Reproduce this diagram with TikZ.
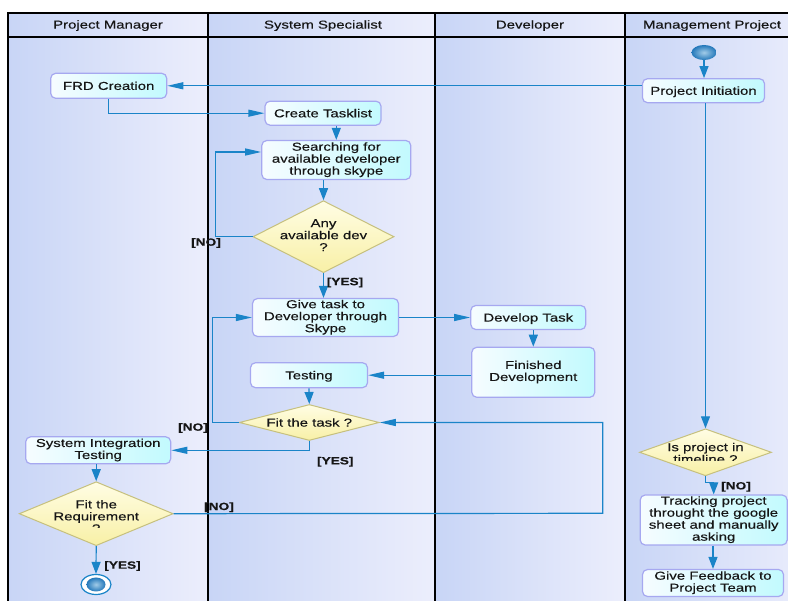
\documentclass[tikz,border=0pt]{standalone}
\usepackage{fontspec}
\setmainfont{Liberation Sans}[FakeStretch=1.3,FakeBold=0.3]
\usetikzlibrary{arrows.meta,shapes.geometric}

\definecolor{lanel}{HTML}{C8D5F6}
\definecolor{laner}{HTML}{ECEEFC}
\definecolor{flow}{HTML}{1A84C8}
\definecolor{boxline}{HTML}{A6A8F0}
\definecolor{boxl}{HTML}{F6FCFF}
\definecolor{boxr}{HTML}{C2FAFE}
\definecolor{dline}{HTML}{C6C07E}
\definecolor{dtop}{HTML}{FFFDE4}
\definecolor{dbot}{HTML}{F8F0A6}
\definecolor{ink}{HTML}{161616}
\definecolor{dotin}{HTML}{A2CCE8}
\definecolor{dotout}{HTML}{2478BA}

% struts that give every text block the same top and bottom
\newcommand{\labeltop}{\rule{0pt}{11.2pt}}
\newcommand{\labelbot}{\rule[-3pt]{0pt}{0pt}}

\begin{document}
\begin{tikzpicture}[x=1pt,y=-1pt,
  font=\fontsize{11.5}{12}\selectfont, text=ink,
  lane/.style={left color=lanel,right color=laner,draw=none},
  frame/.style={draw=black,line width=1.2pt},
  even/.style={execute at begin node=\labeltop,execute at end node=\labelbot},
  box/.style={even,rounded corners=5pt,draw=boxline,line width=1.2pt,
    left color=boxl,right color=boxr,align=center,inner sep=0pt},
  dia/.style={diamond,draw=dline,line width=1pt,top color=dtop,
    bottom color=dbot,inner sep=0pt},
  dtext/.style={even,align=center,inner sep=0pt},
  guard/.style={font=\bfseries\fontsize{10.5}{12}\selectfont,inner sep=0pt},
  head/.style={even,inner sep=0pt},
  flowline/.style={draw=flow,line width=1.2pt},
  harr/.style={flowline,-{Triangle[length=16pt,width=7pt]}},
  varr/.style={flowline,-{Triangle[length=12pt,width=9pt]}},
  dot/.style={ellipse,inner sep=0pt,inner color=dotin,outer color=dotout},
]
\useasboundingbox (0,0) rectangle (788,601);

% swimlanes
\path[lane] (8,13) rectangle (208,601);
\path[lane] (208,13) rectangle (435,601);
\path[lane] (435,13) rectangle (625,601);
\path[lane,right color=laner!85!lanel] (625,13) rectangle (788,601);
\draw[frame] (788,13) -- (8,13) -- (8,601);
\draw[frame] (8,37) -- (788,37);
\foreach \lx in {208,435,625} \draw[frame] (\lx,13) -- (\lx,601);

\node[head] (hpm) at (108,24.5) {Project Manager};
\node[head] (hss) at (323,24.5) {System Specialist};
\node[head] (hdev) at (530,24.5) {Developer};
\node[head] (hmp) at (712,24.5) {Management Project};

% actions
\node[box,minimum width=116pt,minimum height=25pt] (frd) at (108.7,85.8) {FRD Creation};
\node[box,minimum width=116pt,minimum height=24pt] (ct) at (323,113.2) {Create Tasklist};
\node[box,minimum width=122pt,minimum height=24pt] (pi) at (703.5,90.7) {Project Initiation};
\node[box,minimum width=149pt,minimum height=39pt] (search) at (336.3,160) {Searching for\\available developer\\through skype};
\node[box,minimum width=146pt,minimum height=38pt] (give) at (325.5,317.5) {Give task to\\Developer through\\Skype};
\node[box,minimum width=115pt,minimum height=24pt] (dev) at (528.3,317.5) {Develop Task};
\node[box,minimum width=123pt,minimum height=50pt] (fin) at (533.3,372.3) {Finished\\Development};
\node[box,minimum width=117pt,minimum height=25pt] (test) at (309,375.2) {Testing};
\node[box,minimum width=145pt,minimum height=27pt] (sit) at (98.2,450.3) {System Integration\\Testing};
\node[box,minimum width=147pt,minimum height=50pt] (track) at (713.7,520) {Tracking project\\throught the google\\sheet and manually\\asking};
\node[box,minimum width=141pt,minimum height=27pt] (fb) at (713,583) {Give Feedback to\\Project Team};

% decisions
\node[dia,minimum width=141pt,minimum height=72pt] (anydev) at (323.5,236.7) {};
\node[dtext] (anydevt) at (anydev.center) {Any\\available dev\\?};
\node[dia,minimum width=140pt,minimum height=36pt] (fittask) at (309.3,422.5) {};
\node[dtext] (fittaskt) at (fittask.center) {Fit the task ?};
\node[dia,minimum width=154pt,minimum height=64pt] (fitreq) at (96.2,513.7) {};
\begin{scope}
  \clip (20,490) rectangle (172,528);
  \node[dtext] (fitreqt) at (96.2,517.7) {Fit the\\Requirement\\?};
\end{scope}
\node[dia,minimum width=132pt,minimum height=47pt] (isp) at (705.5,452.3) {};
\begin{scope}
  \clip (640,435) rectangle (771,461);
  \node[dtext] (ispt) at (705.5,454.5) {Is project in\\timeline ?};
\end{scope}

% start and end
\node[dot,minimum width=25pt,minimum height=15pt] (start) at (704,52.5) {};
\node[ellipse,draw=flow,line width=1.2pt,fill=white,inner sep=0pt,
  minimum width=30pt,minimum height=20pt] (finish) at (96,584.5) {};
\node[dot,minimum width=19pt,minimum height=14pt] (finishdot) at (finish.center) {};

% flows
\coordinate (searchin) at ([yshift=8pt]search.west);
\coordinate (rloop) at (602.7,513.3);

\draw[varr] (start.south) -- (start.south |- pi.north);
\draw[harr] (pi.west |- frd.east) -- (frd.east);
\draw[harr] (frd.south) |- (ct.west);
\draw[varr] (search.north |- ct.south) -- (search.north);
\draw[varr] (anydev.north |- search.south) -- (anydev.north);
\draw[harr] (anydev.west) -- ++(-37,0) |- (searchin);
\draw[varr] (anydev.south) -- (anydev.south |- give.north);
\draw[harr] (give.east) -- (dev.west);
\draw[varr] (fin.north |- dev.south) -- (fin.north);
\draw[harr] (fin.west |- test.east) -- (test.east);
\draw[varr] (test.south) -- (fittask.north);
\draw[harr] (fittask.west) -- ++(-26,0) |- (give.west);
\draw[harr] (fittask.south) |- (sit.east);
\draw[varr] (fitreq.north |- sit.south) -- (fitreq.north);
\draw[harr] (fitreq.east) -- (rloop) |- (fittask.east);
\draw[varr] (fitreq.south) -- (finish.north);
\draw[varr] (isp.north |- pi.south) -- (isp.north);
\draw[varr] (isp.south) -- ++(0,6) -| (track.north);
\draw[varr] (fb.north |- track.south) -- (fb.north);

% guards
\node[guard] (g1) at (206,243) {[NO]};
\node[guard] (g2) at (345,282.5) {[YES]};
\node[guard] (g3) at (193,428) {[NO]};
\node[guard] (g4) at (335.3,461.7) {[YES]};
\node[guard] (g5) at (219,507.3) {[NO]};
\node[guard] (g6) at (122.5,566) {[YES]};
\node[guard] (g7) at (736,486.7) {[NO]};
\end{tikzpicture}
\end{document}
